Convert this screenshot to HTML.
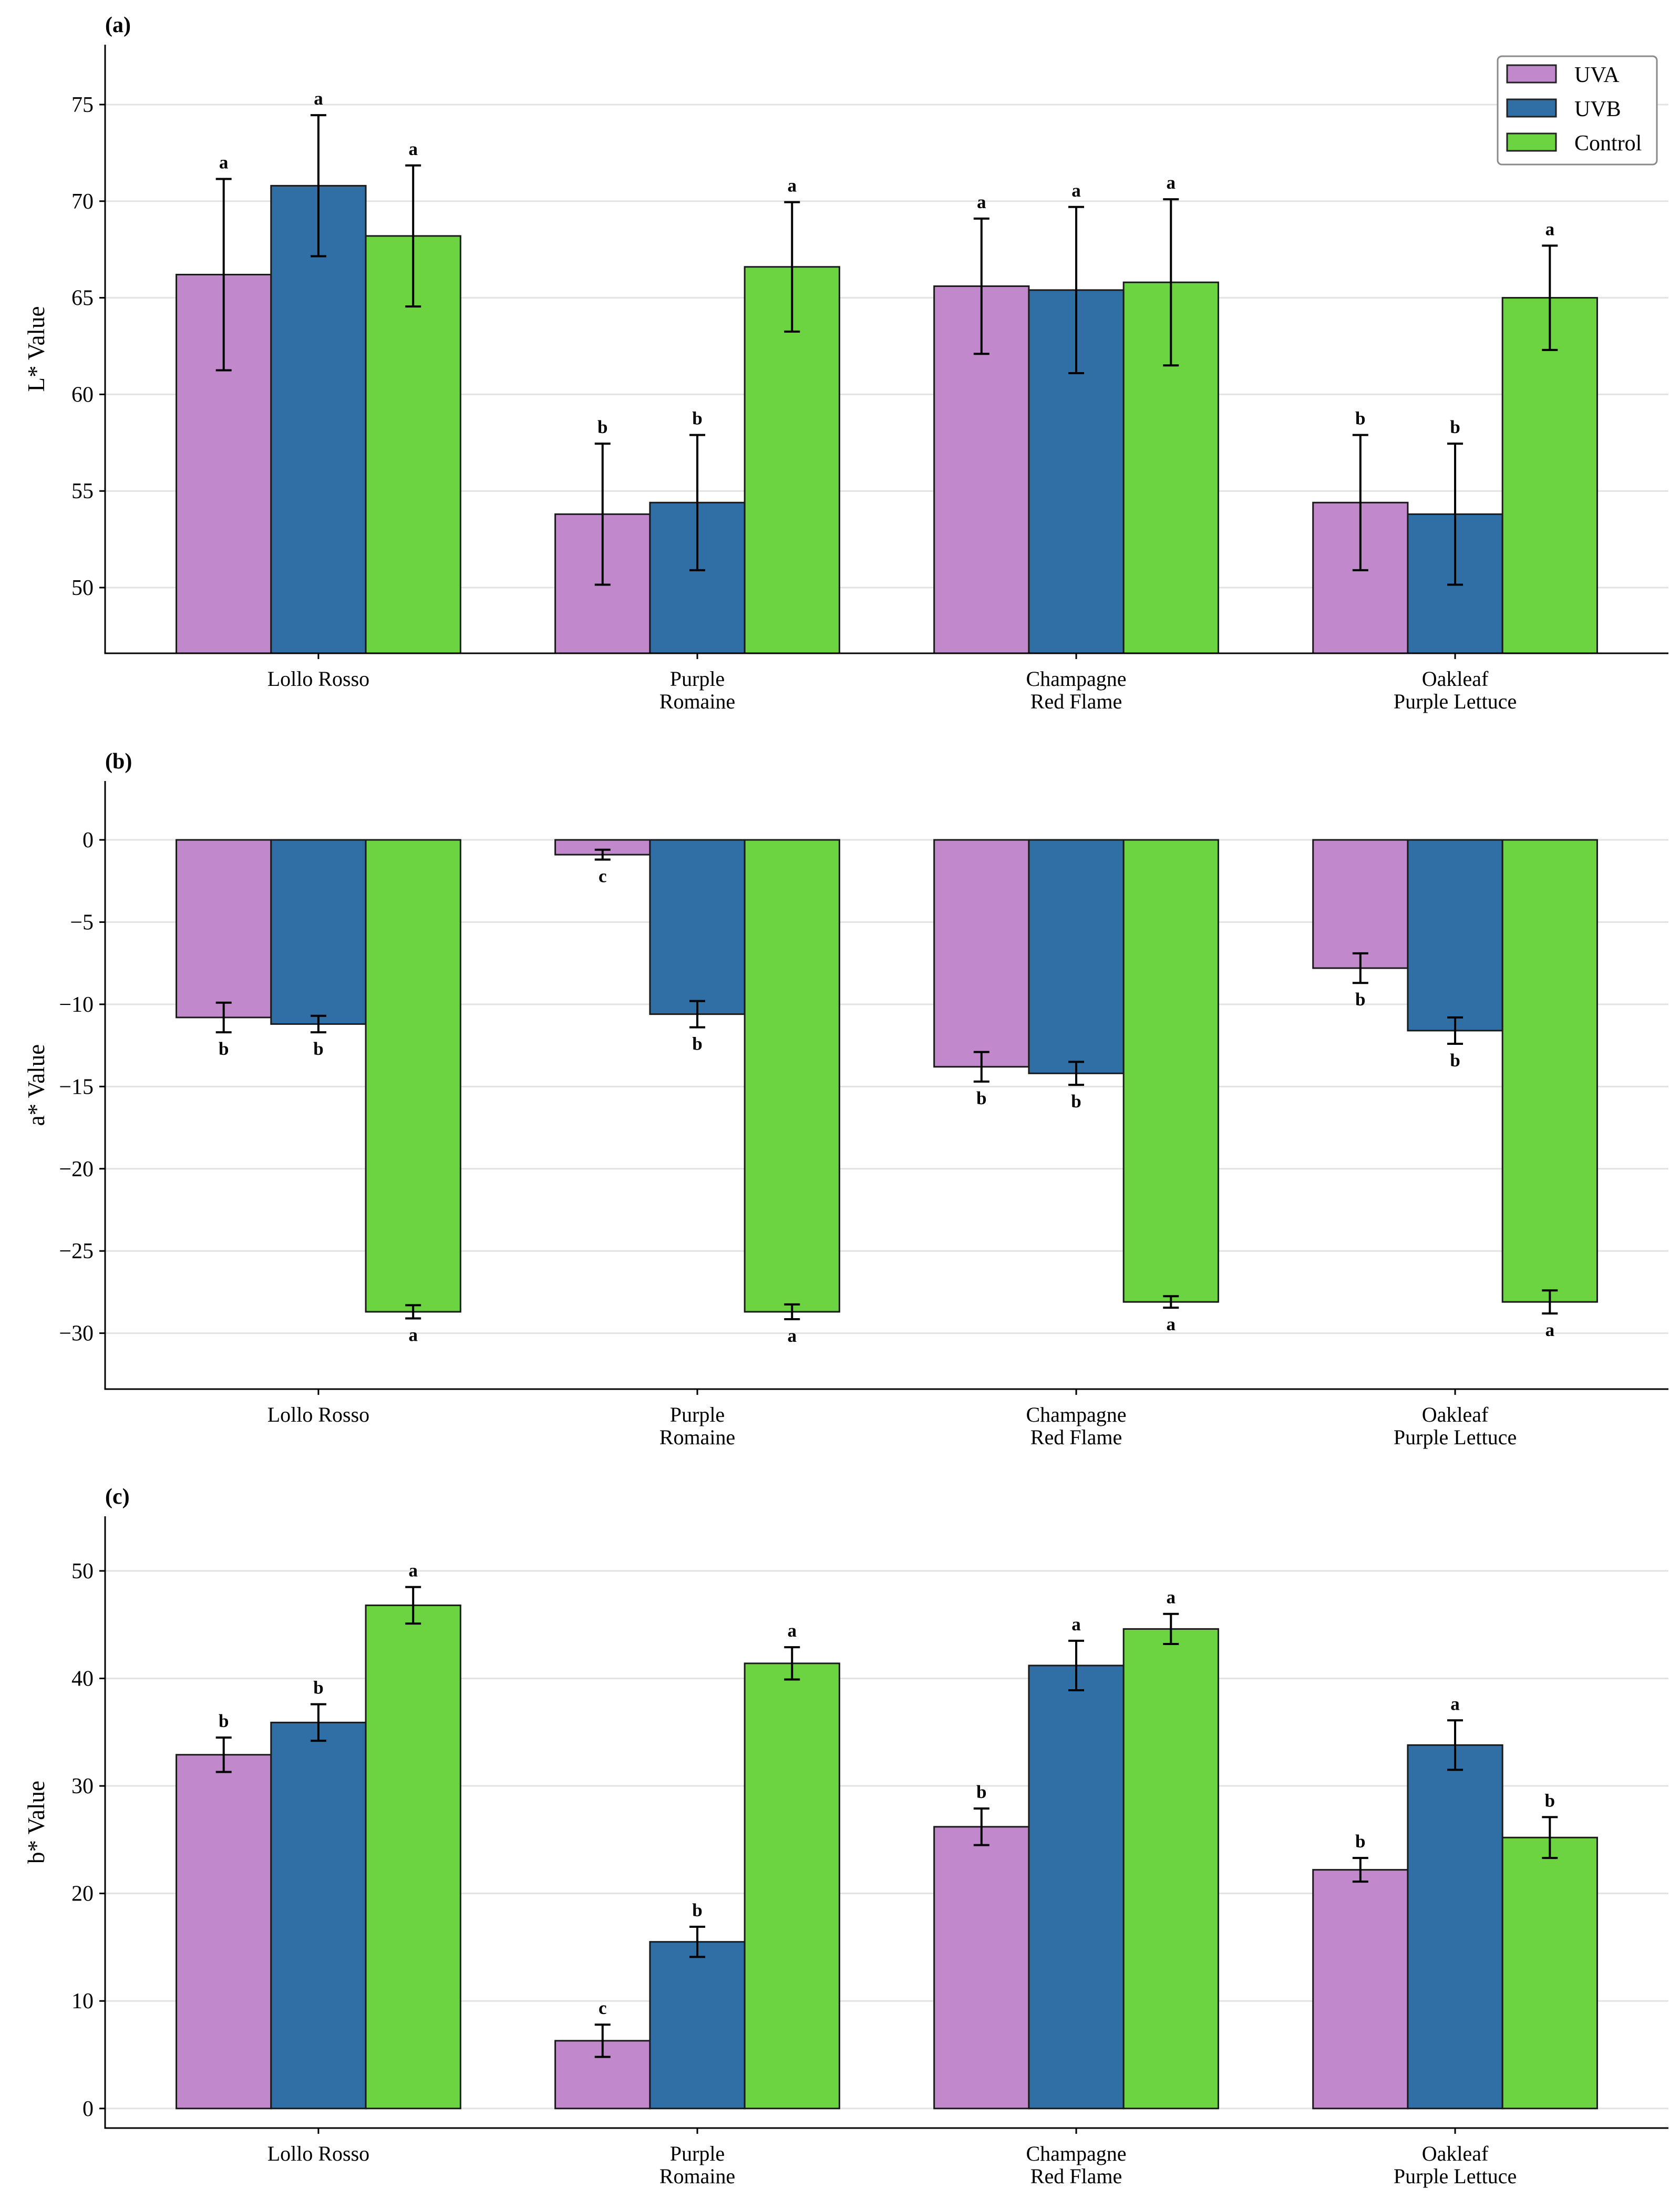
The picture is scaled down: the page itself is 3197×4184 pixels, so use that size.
<!DOCTYPE html>
<html><head><meta charset="utf-8"><style>
body{margin:0;background:#fff}
svg{display:block;font-family:"Liberation Serif",serif}
</style></head><body>
<svg id="chart" width="3197" height="4184" viewBox="0 0 3197 4184" xmlns="http://www.w3.org/2000/svg">
<rect width="3197" height="4184" fill="#fff"/>
<g id="root"></g>
<g>
 <rect x="2850" y="107" width="303" height="206" rx="8" fill="#fff" stroke="#8a8a8a" stroke-width="3"/>
 <rect x="2868" y="124" width="93" height="33" fill="#c189cb" stroke="#222" stroke-width="3"/>
 <text x="2996" y="156" font-size="42">UVA</text>
 <rect x="2868" y="189" width="93" height="33" fill="#2f6fa6" stroke="#222" stroke-width="3"/>
 <text x="2996" y="221" font-size="42">UVB</text>
 <rect x="2868" y="254" width="93" height="33" fill="#6cd440" stroke="#222" stroke-width="3"/>
 <text x="2996" y="286" font-size="42">Control</text>
</g>
</svg>
<script>
const categories = [["Lollo Rosso"],["Purple","Romaine"],["Champagne","Red Flame"],["Oakleaf","Purple Lettuce"]];
const seriesNames = ["UVA","UVB","Control"];
const seriesColors = ["#c189cb","#2f6fa6","#6cd440"];

const lUVA = [66.2, 53.8, 65.6, 54.4];
const lUVB = [70.8, 54.4, 65.4, 53.8];
const lCtrl = [68.2, 66.6, 65.8, 65.0];
const lErrUVA = [4.95, 3.65, 3.5, 3.5];
const lErrUVB = [3.65, 3.5, 4.3, 3.65];
const lErrCtrl = [3.65, 3.35, 4.3, 2.7];
const lLetters = [["a","a","a"],["b","b","a"],["a","a","a"],["b","b","a"]];
const lTicks = [50,55,60,65,70,75];

const aUVA = [-10.8, -0.9, -13.8, -7.8];
const aUVB = [-11.2, -10.6, -14.2, -11.6];
const aCtrl = [-28.7, -28.7, -28.1, -28.1];
const aErrUVA = [0.9, 0.3, 0.9, 0.9];
const aErrUVB = [0.5, 0.8, 0.7, 0.8];
const aErrCtrl = [0.4, 0.45, 0.35, 0.7];
const aLetters = [["b","b","a"],["c","b","a"],["b","b","a"],["b","b","a"]];
const aTicks = [-30,-25,-20,-15,-10,-5,0];

const bUVA = [32.9, 6.3, 26.2, 22.2];
const bUVB = [35.9, 15.5, 41.2, 33.8];
const bCtrl = [46.8, 41.4, 44.6, 25.2];
const bErrUVA = [1.6, 1.5, 1.7, 1.1];
const bErrUVB = [1.7, 1.4, 2.3, 2.3];
const bErrCtrl = [1.7, 1.5, 1.4, 1.9];
const bLetters = [["b","b","a"],["c","b","a"],["b","a","a"],["b","a","b"]];
const bTicks = [0,10,20,30,40,50];

const NS = "http://www.w3.org/2000/svg";
const root = document.getElementById('root');
function el(tag, attrs, parent, txt){
  const e = document.createElementNS(NS, tag);
  for (const k in attrs) e.setAttribute(k, attrs[k]);
  if (txt !== undefined) e.textContent = txt;
  (parent||root).appendChild(e);
  return e;
}
const LEFT = 200, RIGHT = 3175;
const xMin = -0.563, xMax = 3.563;
function xScale(v){ return LEFT + (v - xMin) / (xMax - xMin) * (RIGHT - LEFT); }
const BW = 0.25;

function panel(cfg){
  const g = el('g', {});
  
  
  const y = v => cfg.top + (cfg.yMax - v) / (cfg.yMax - cfg.yMin) * (cfg.bottom - cfg.top);
  cfg.ticks.forEach(t => {
    const gl = el('line', {x1:LEFT, x2:RIGHT, y1:y(t), y2:y(t), stroke:'#e3e3e3', 'stroke-width':3}, g);
    
    
    el('line', {x1:LEFT-11, x2:LEFT, y1:y(t), y2:y(t), stroke:'#000', 'stroke-width':3}, g);
    const tl = el('text', {x:LEFT-22, y:y(t)+14, 'font-size':42, 'text-anchor':'end'}, g, t < 0 ? '\u2212' + Math.abs(t) : String(t));
    
    
  });
  const base = cfg.yMin > 0 ? cfg.yMin : 0;
  const series = [cfg.s0, cfg.s1, cfg.s2];
  const errs = [cfg.e0, cfg.e1, cfg.e2];
  categories.forEach((cat, i) => {
    series.forEach((s, j) => {
      const cx = i + (j - 1) * BW;
      const x0 = xScale(cx - BW/2), x1 = xScale(cx + BW/2);
      const v = s[i];
      const yt = Math.min(y(v), y(base)), yb = Math.max(y(v), y(base));
      const bar = el('rect', {x:x0, y:yt, width:x1-x0, height:yb-yt, fill:seriesColors[j], stroke:'#1a1a1a', 'stroke-width':3}, g);
      
      
      const xc = xScale(cx), e = errs[j][i];
      const hi = y(v + e), lo = y(v - e);
      el('line', {x1:xc, x2:xc, y1:hi, y2:lo, stroke:'#000', 'stroke-width':4}, g);
      el('line', {x1:xc-15, x2:xc+15, y1:hi, y2:hi, stroke:'#000', 'stroke-width':4}, g);
      el('line', {x1:xc-15, x2:xc+15, y1:lo, y2:lo, stroke:'#000', 'stroke-width':4}, g);
      const ly = v >= 0 ? hi - 20 : lo + 43;
      const lt = el('text', {x:xc, y:ly, 'font-size':35, 'font-weight':'bold', 'text-anchor':'middle'}, g, cfg.letters[i][j]);
      
      
    });
    const xc = xScale(i);
    el('line', {x1:xc, x2:xc, y1:cfg.bottom, y2:cfg.bottom+11, stroke:'#000', 'stroke-width':3}, g);
    cat.forEach((line, k) => {
      const ct = el('text', {x:xc, y:cfg.bottom + 62 + k*43, 'font-size':40, 'text-anchor':'middle'}, g, line);
      
      
    });
  });
  el('line', {x1:LEFT, x2:LEFT, y1:cfg.top, y2:cfg.bottom+1.5, stroke:'#000', 'stroke-width':3}, g);
  el('line', {x1:LEFT, x2:RIGHT, y1:cfg.bottom, y2:cfg.bottom, stroke:'#000', 'stroke-width':3}, g);
  const yt = el('text', {x:0, y:0, 'font-size':45, 'text-anchor':'middle', transform:'translate(84,' + ((cfg.top+cfg.bottom)/2) + ') rotate(-90)'}, g, cfg.ytitle);
  
  
  const pl = el('text', {x:LEFT, y:cfg.top - 24, 'font-size':42, 'font-weight':'bold'}, g, cfg.label);
  
  
}

panel({name:'panel-a-lightness', label:'(a)', ytitle:'L* Value', top:85, bottom:1243, yMin:46.6, yMax:78.1, ticks:lTicks, s0:lUVA, s1:lUVB, s2:lCtrl, e0:lErrUVA, e1:lErrUVB, e2:lErrCtrl, letters:lLetters});
panel({name:'panel-b-a-value', label:'(b)', ytitle:'a* Value', top:1486, bottom:2643, yMin:-33.4, yMax:3.58, ticks:aTicks, s0:aUVA, s1:aUVB, s2:aCtrl, e0:aErrUVA, e1:aErrUVB, e2:aErrCtrl, letters:aLetters});
panel({name:'panel-c-b-value', label:'(c)', ytitle:'b* Value', top:2885, bottom:4049, yMin:-1.82, yMax:55.08, ticks:bTicks, s0:bUVA, s1:bUVB, s2:bCtrl, e0:bErrUVA, e1:bErrUVB, e2:bErrCtrl, letters:bLetters});
</script>
</body></html>
